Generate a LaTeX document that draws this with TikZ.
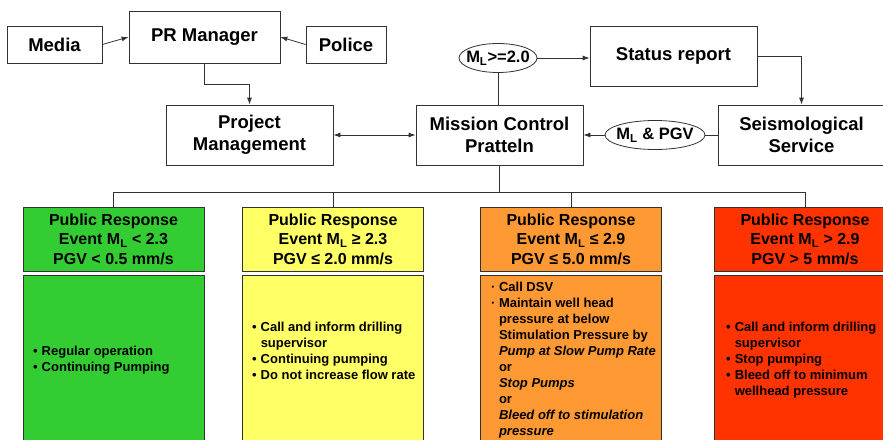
\documentclass[tikz,border=0pt]{standalone}
\usepackage{fontspec}
\setmainfont{Liberation Sans}
\usetikzlibrary{shapes.geometric,arrows.meta,calc}
\definecolor{cgreen}{RGB}{51,204,51}
\definecolor{cyellow}{RGB}{255,255,102}
\definecolor{corange}{RGB}{255,153,51}
\definecolor{cred}{RGB}{255,51,0}
\definecolor{edge}{RGB}{50,50,50}
\begin{document}
\begin{tikzpicture}[x=1pt,y=-1pt,
  box/.style={draw=edge, line width=0.8pt, fill=white, rectangle, inner sep=0pt, align=center, font={\bfseries\fontsize{18.5}{22}\selectfont}},
  lbl/.style={draw=edge, ellipse, line width=0.8pt, fill=white, inner xsep=-5pt, inner ysep=1pt, font={\bfseries\fontsize{16.5}{19}\selectfont}},
  hdr/.style={draw=edge, line width=0.8pt, minimum width=181pt, minimum height=64pt, inner sep=0pt, align=center, font={\bfseries\fontsize{16}{19.5}\selectfont}},
  panel/.style={draw=edge, line width=0.8pt, minimum width=181pt, minimum height=200pt, inner sep=0pt, anchor=north},
  items/.style={anchor=north west, inner sep=0pt, align=left, font={\bfseries\fontsize{13}{16}\selectfont}},
  arr/.style={-{Latex[length=7pt,width=5pt]}, line width=0.8pt, draw=edge},
  conn/.style={line width=0.8pt, draw=edge}
]
\useasboundingbox (0,0) rectangle (883,439);
\clip (0,0) rectangle (883,439);

% top level
\node[box, minimum width=95pt, minimum height=37pt] (media) at (54.5,44.5) {Media};
\node[box, minimum width=151pt, minimum height=52pt] (pr) at (204.5,37) {PR Manager};
\node[box, minimum width=80pt, minimum height=37pt] (police) at (346,44.5) {Police};
\node[box, minimum width=167pt, minimum height=60pt] (pm) at (249.5,135) {Project\\Management};
\node[box, minimum width=167pt, minimum height=60pt] (mc) at (499.5,135) {Mission Control\\Pratteln};
\node[box, minimum width=167pt, minimum height=60pt] (status) at (673.5,56) {Status report};
\node[box, minimum width=167pt, minimum height=60pt] (seis) at (801.5,135) {Seismological\\Service};
\node[lbl, minimum width=78pt, minimum height=29pt] (e1) at (498,58) {M\textsubscript{L}>=2.0};
\node[lbl, minimum width=100pt, minimum height=29pt] (e2) at (655,135) {M\textsubscript{L} \& PGV};

\draw[arr] (media.east) -- (pr.west);
\draw[arr] (police.west) -- (pr.east);
\draw[arr] (pr.south) -- ++(0,21) -| (pm.north);
\draw[{Latex[length=7pt,width=5pt]}-{Latex[length=7pt,width=5pt]}, conn] (pm.east) -- (mc.west);
\draw[conn] (e1.south) -- (e1.south |- mc.north);
\draw[arr] (e1.east) -- (e1.east -| status.west);
\draw[arr] (status.east) -| (seis.north);
\draw[conn] (seis.west) -- (e2.east);
\draw[arr] (e2.west) -- (mc.east);

% response levels
\node[hdr, fill=cgreen] (h1) at (113.5,239) {Public Response\\Event M\textsubscript{L} < 2.3\\PGV < 0.5 mm/s};
\node[hdr, fill=cyellow] (h2) at (333,239) {Public Response\\Event M\textsubscript{L} ≥ 2.3\\PGV ≤ 2.0 mm/s};
\node[hdr, fill=corange] (h3) at (571,239) {Public Response\\Event M\textsubscript{L} ≤ 2.9\\PGV ≤ 5.0 mm/s};
\node[hdr, fill=cred] (h4) at (805,239) {Public Response\\Event M\textsubscript{L} > 2.9\\PGV > 5 mm/s};

\coordinate (bus) at (0,192);
\draw[conn] (mc.south) -- (mc.south |- bus);
\draw[conn] (h1.north) -- (h1.north |- bus) -- (h4.north |- bus) -- (h4.north);
\draw[conn] (h2.north) -- (h2.north |- bus);
\draw[conn] (h3.north) -- (h3.north |- bus);

\node[panel, fill=cgreen] (p1) at (113.5,275) {};
\node[panel, fill=cyellow] (p2) at (333,275) {};
\node[panel, fill=corange] (p3) at (571,275) {};
\node[panel, fill=cred] (p4) at (805,275) {};

\node[items] (t1) at (33,344.5) {\begin{tabular}{@{}l@{\hspace{4pt}}l@{}}
•&Regular operation\\
•&Continuing Pumping\end{tabular}};
\node[items] (t2) at (252,320.5) {\begin{tabular}{@{}l@{\hspace{4pt}}l@{}}
•&Call and inform drilling\\
&supervisor\\
•&Continuing pumping\\
•&Do not increase flow rate\end{tabular}};
\node[items] (t3) at (491,280.5) {\begin{tabular}{@{}l@{\hspace{3.5pt}}l@{}}
·&Call DSV\\
·&Maintain well head\\
&pressure at below\\
&Stimulation Pressure by\\
&\textit{Pump at Slow Pump Rate}\\
&or\\
&\textit{Stop Pumps}\\
&or\\
&\textit{Bleed off to stimulation}\\
&\textit{pressure}\end{tabular}};
\node[items] (t4) at (726,320.5) {\begin{tabular}{@{}l@{\hspace{4pt}}l@{}}
•&Call and inform drilling\\
&supervisor\\
•&Stop pumping\\
•&Bleed off to minimum\\
&wellhead pressure\end{tabular}};
\end{tikzpicture}
\end{document}
